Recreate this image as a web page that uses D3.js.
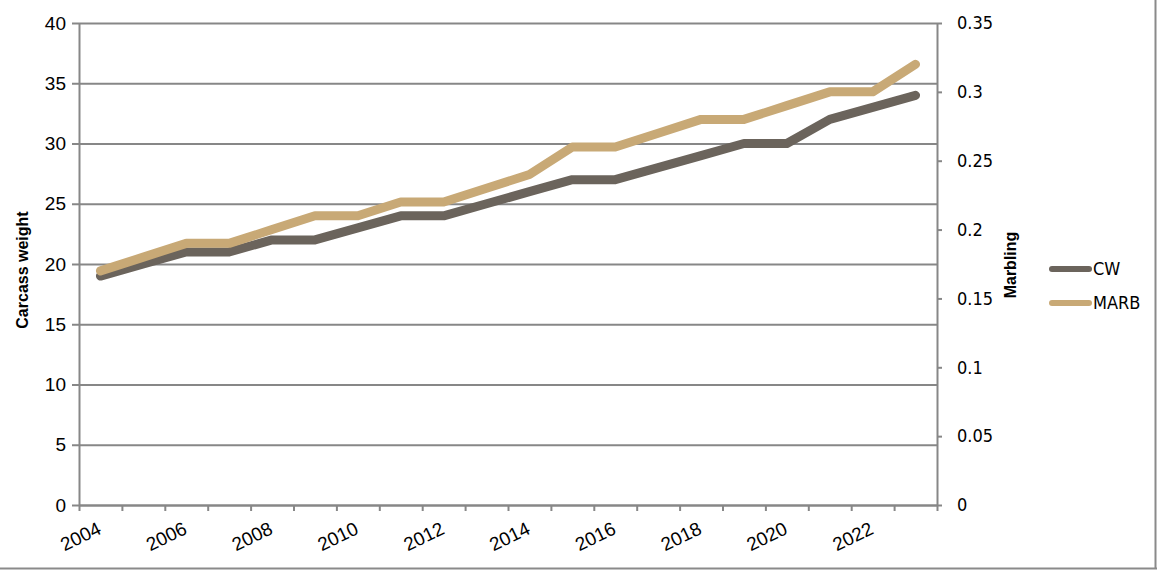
<!DOCTYPE html>
<html>
<head>
<meta charset="utf-8">
<script src="https://cdn.jsdelivr.net/npm/d3@7"></script>
<style>
  html, body { margin: 0; padding: 0; background: #fff; }
  svg { display: block; }
  .lab { font-family: "Liberation Sans", Arial, sans-serif; fill: #000; }
  .cond { font-family: "Liberation Sans Narrow", "DejaVu Sans Condensed", "Liberation Sans", sans-serif; fill: #000; }
</style>
</head>
<body>
<svg id="chart" width="1157" height="570"></svg>
<script>
// ---- data ----
const years = ["2004","2005","2006","2007","2008","2009","2010","2011","2012","2013",
               "2014","2015","2016","2017","2018","2019","2020","2021","2022","2023"];
const cwValues   = [19, 20, 21, 21, 22, 22, 23, 24, 24, 25, 26, 27, 27, 28, 29, 30, 30, 32, 33, 34];
const marbValues = [0.17, 0.18, 0.19, 0.19, 0.20, 0.21, 0.21, 0.22, 0.22, 0.23, 0.24, 0.26, 0.26, 0.27, 0.28, 0.28, 0.29, 0.30, 0.30, 0.32];
const xTickLabels = ["2004","2006","2008","2010","2012","2014","2016","2018","2020","2022"];
const leftTicks  = [0, 5, 10, 15, 20, 25, 30, 35, 40];
const rightTicks = [0, 0.05, 0.1, 0.15, 0.2, 0.25, 0.3, 0.35];
const rightTickLabels = ["0", "0.05", "0.1", "0.15", "0.2", "0.25", "0.3", "0.35"];
const seriesNames = ["CW", "MARB"];

// ---- layout ----
const L = 79, R = 937, T = 23, B = 505;
const gridColor = "#878787";
const colCW = "#6b645c", colMARB = "#c8a976";

const svg = d3.select("#chart");

const x = d3.scaleBand().domain(years).range([L, R]).padding(0);
const xEdge = d3.scaleLinear().domain([0, years.length]).range([L, R]);
const yL = d3.scaleLinear().domain([0, 40]).range([B, T]);
const yR = d3.scaleLinear().domain([0, 0.35]).range([B, T]);

// outer frame (right & bottom visible)
svg.append("line").attr("x1", 1155.5).attr("x2", 1155.5).attr("y1", 0).attr("y2", 569)
  .attr("stroke", "#8a8a8a").attr("stroke-width", 2);
svg.append("line").attr("x1", 0).attr("x2", 1157).attr("y1", 568.5).attr("y2", 568.5)
  .attr("stroke", "#8a8a8a").attr("stroke-width", 2);

// gridlines
const grid = svg.append("g").attr("transform", `translate(${L},0)`)
  .call(d3.axisRight(yL).tickValues(leftTicks).tickSize(R - L).tickFormat(""));
grid.select(".domain").remove();
grid.selectAll(".tick line").attr("stroke", gridColor).attr("stroke-width", 2);

// left axis
const gl = svg.append("g").attr("transform", `translate(${L},0)`)
  .call(d3.axisLeft(yL).tickValues(leftTicks).tickSizeInner(7).tickSizeOuter(0).tickPadding(6));
gl.select(".domain").attr("stroke", gridColor).attr("stroke-width", 2);
gl.selectAll(".tick line").attr("stroke", gridColor).attr("stroke-width", 2);
gl.selectAll(".tick text").attr("class", "lab").style("font-size", "19px").attr("fill", "#000");

// right axis
const gr = svg.append("g").attr("transform", `translate(${R},0)`)
  .call(d3.axisRight(yR).tickValues(rightTicks).tickSizeInner(5).tickSizeOuter(0).tickPadding(15)
    .tickFormat((d, i) => rightTickLabels[i]));
gr.select(".domain").attr("stroke", gridColor).attr("stroke-width", 2);
gr.selectAll(".tick line").attr("stroke", gridColor).attr("stroke-width", 2);
gr.selectAll(".tick text").attr("class", "cond").style("font-size", "18px").attr("fill", "#000");

// bottom axis: tick marks at category boundaries
const gb = svg.append("g").attr("transform", `translate(0,${B})`)
  .call(d3.axisBottom(xEdge).tickValues(d3.range(years.length + 1)).tickSizeInner(6).tickSizeOuter(0).tickFormat(""));
gb.select(".domain").attr("stroke", gridColor).attr("stroke-width", 2);
gb.selectAll(".tick line").attr("stroke", gridColor).attr("stroke-width", 2);

// x labels
svg.append("g").selectAll("text").data(xTickLabels).join("text")
  .attr("class", "lab")
  .style("font-size", "19px")
  .attr("text-anchor", "end")
  .attr("transform", d => `translate(${x(d) + x.bandwidth() / 2 + 2},${B + 28}) rotate(-26)`)
  .text(d => d);

// axis titles
svg.append("text").attr("class", "lab")
  .style("font-size", "16px").style("font-weight", "bold")
  .attr("text-anchor", "middle")
  .attr("transform", `translate(28,${(T + B) / 2 + 6}) rotate(-90)`)
  .text("Carcass weight");
svg.append("text").attr("class", "lab")
  .style("font-size", "16px").style("font-weight", "bold")
  .attr("text-anchor", "middle")
  .attr("transform", `translate(1016,${(T + B) / 2 + 1}) rotate(-90)`)
  .text("Marbling");

// lines
const lineCW = d3.line().x((d, i) => x(years[i]) + x.bandwidth() / 2).y(d => yL(d));
const lineMARB = d3.line().x((d, i) => x(years[i]) + x.bandwidth() / 2).y(d => yR(d));

svg.append("path").datum(cwValues).attr("d", lineCW)
  .attr("fill", "none").attr("stroke", colCW).attr("stroke-width", 9)
  .attr("stroke-linecap", "round").attr("stroke-linejoin", "round");
svg.append("path").datum(marbValues).attr("d", lineMARB)
  .attr("fill", "none").attr("stroke", colMARB).attr("stroke-width", 9)
  .attr("stroke-linecap", "round").attr("stroke-linejoin", "round");

// legend
const legend = svg.append("g").selectAll("g").data(seriesNames).join("g")
  .attr("transform", (d, i) => `translate(1052,${269 + i * 34})`);
legend.append("line").attr("x1", 0).attr("x2", 37).attr("y1", 0).attr("y2", 0)
  .attr("stroke", (d, i) => i === 0 ? colCW : colMARB).attr("stroke-width", 6)
  .attr("stroke-linecap", "round");
legend.append("text").attr("class", "cond").style("font-size", "18px")
  .attr("x", 41).attr("y", 6).text(d => d);
</script>
</body>
</html>
